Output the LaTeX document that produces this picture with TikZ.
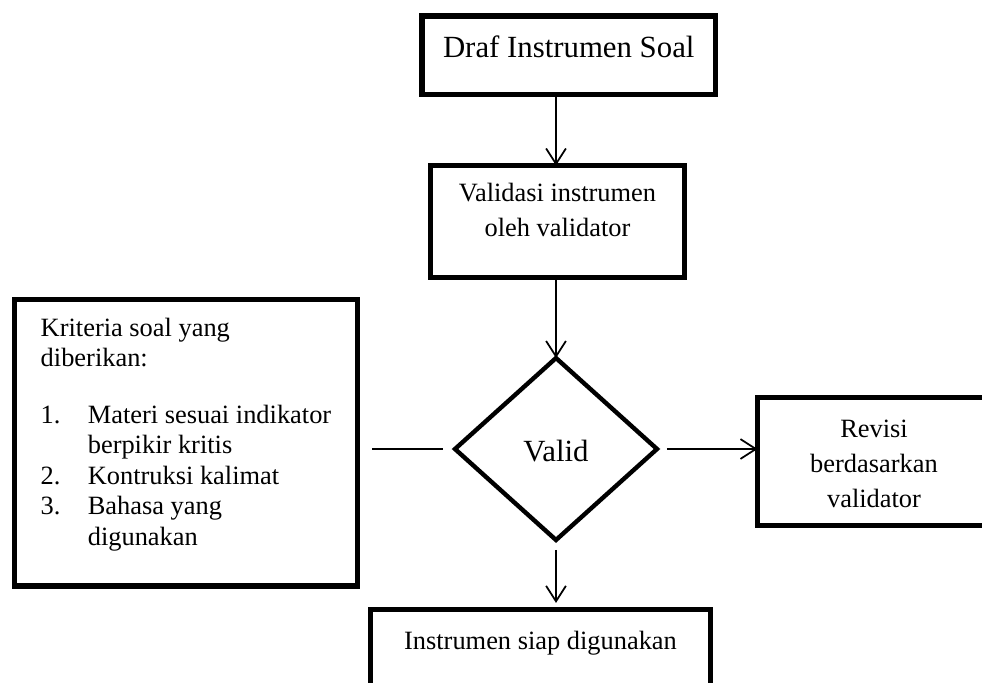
\documentclass[tikz,border=0pt]{standalone}
\usepackage{fontspec}
\setmainfont{Liberation Serif}
\usetikzlibrary{arrows.meta,shapes.geometric}
\newcommand{\itemno}[1]{\makebox[21.4pt][l]{#1}}

\begin{document}
\begin{tikzpicture}[x=0.4545pt, y=-0.4545pt,
  box/.style={draw, line width=2.3pt, outer sep=0pt, inner sep=0pt, align=center,
              font=\fontsize{12}{15.9}\selectfont, text height=9pt},
  cond/.style={diamond, draw, line width=2pt, outer sep=0pt, inner sep=0pt,
               minimum width=91.8pt, minimum height=82.7pt, font=\fontsize{14}{16}\selectfont},
  arr/.style={-{Straight Barb[length=7pt,width=9pt]}, line width=0.8pt},
  lin/.style={line width=0.8pt}]
  \useasboundingbox (0,0) rectangle (982,682);
  \clip (0,0) rectangle (982,682);
  \node[box, font=\fontsize{14}{16}\selectfont, minimum width=133.4pt, minimum height=35.7pt,
        text height=10pt, text depth=8.4pt] (draf) at (568.75,55.25) {Draf Instrumen Soal};
  \node[box, minimum width=115.5pt, minimum height=50.9pt, text height=30pt, text depth=16.2pt]
    (vld) at (557.5,221.5) {Validasi instrumen\\ oleh validator};
  \node[cond, text height=11.6pt, text depth=0pt] (dec) at (556,449) {Valid};
  \node[box, align=left, font=\fontsize{12}{13.8}\selectfont, minimum width=155.9pt,
        minimum height=130.2pt, text height=105pt, text depth=12pt] (crit) at (186,442.75)
    {Kriteria soal yang\\ diberikan:\\[12pt]
     \itemno{1.}Materi sesuai indikator\\ \itemno{}berpikir kritis\\
     \itemno{2.}Kontruksi kalimat\\ \itemno{3.}Bahasa yang\\ \itemno{}digunakan};
  \node[box, minimum width=105.9pt, minimum height=58.2pt, text height=47.7pt, text depth=5.7pt]
    (rev) at (874,461.5) {Revisi\\ berdasarkan\\ validator};
  \node[box, anchor=north, minimum width=154.5pt, inner ysep=9.4pt, text depth=40pt] (ready)
    at (540.5,609.5) {Instrumen siap digunakan};
  \draw[arr] (draf.south -| dec.north) -- (vld.north -| dec.north);
  \draw[arr] (vld.south -| dec.north) -- (dec.north);
  \draw[arr, shorten <=4.5pt] (dec.east) -- (dec.east -| rev.west);
  \draw[lin, shorten <=6.6pt, shorten >=5.5pt] (crit.east |- dec.west) -- (dec.west);
  \draw[arr, shorten <=4.5pt, shorten >=3pt] (dec.south) -- (ready.north -| dec.south);
\end{tikzpicture}
\end{document}
